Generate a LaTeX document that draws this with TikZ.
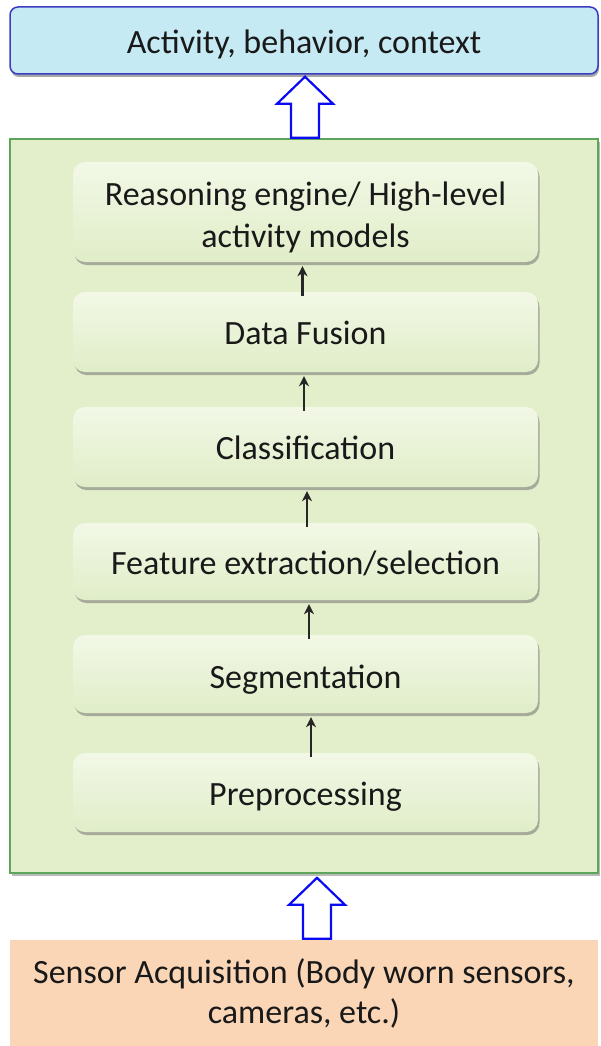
\documentclass[tikz,border=0pt]{standalone}
\usepackage{fontspec}
\setmainfont{Carlito}
\usetikzlibrary{shadows,calc,arrows.meta}
\definecolor{topfill}{HTML}{C6EAF4}
\definecolor{topdraw}{HTML}{3C3CC0}
\definecolor{outfill}{HTML}{E3EFCB}
\definecolor{outdraw}{HTML}{5CA55A}
\definecolor{inhi}{HTML}{F2F8E6}
\definecolor{inlo}{HTML}{E0EDC8}
\definecolor{sensfill}{HTML}{FAD6B7}
\definecolor{bigblue}{HTML}{0A0AF5}
\newcommand\lowr[2][4pt]{\raisebox{-#1}[\height][\depth]{\begin{tabular}{@{}c@{}}#2\end{tabular}}}
\tikzset{
  x=1pt, y=-1pt,
  txt/.style={font=\fontsize{34}{42}\selectfont, text=black!90, align=center, inner sep=0pt},
  topbox/.style={txt, draw=topdraw, line width=1.5pt, fill=topfill, rounded corners=8pt,
    minimum width=588pt, minimum height=67pt,
    drop shadow={shadow xshift=1pt, shadow yshift=-3pt, fill=black!50, opacity=0.7}},
  outerbox/.style={draw=outdraw, line width=1.6pt, fill=outfill, inner sep=0pt,
    minimum width=588pt, minimum height=734pt,
    drop shadow={shadow xshift=2pt, shadow yshift=-3pt, fill=black!45, opacity=0.6}},
  stagebox/.style={txt, rounded corners=12pt, top color=inhi, bottom color=inlo,
    minimum width=465pt,
    drop shadow={shadow xshift=1.5pt, shadow yshift=-3pt, fill=black!55, opacity=0.55}},
  sensbox/.style={txt, fill=sensfill, minimum width=588pt, minimum height=106pt},
  smallarrow/.style={-{Stealth[length=10pt,width=10pt,inset=3pt]}, line width=2.4pt, black!85, shorten >=4pt, shorten <=-4pt},
  bigarrow/.style={draw=bigblue, line width=2.2pt, fill=white, line join=miter},
  blockarrow/.pic={\draw[bigarrow] (0,0) -- (28,27) -- (14,27) -- (14,61) -- (-14,61) -- (-14,27) -- (-28,27) -- cycle;}
}
\begin{document}
\begin{tikzpicture}
\useasboundingbox (0,0) rectangle (600,1046);
\node[sensbox] (sens) at (304,993) {Sensor Acquisition (Body worn sensors,\\[-2pt]cameras, etc.)};
\node[outerbox] (outer) at (304,506) {};
\node[topbox] (top) at (304,40.5) {\lowr[5pt]{Activity, behavior, context}};
\node[stagebox, minimum height=100pt] (reason) at (305.5,212) {\lowr[6pt]{Reasoning engine/ High-level\\activity models}};
\node[stagebox, minimum height=80pt] (fusion) at (305.5,332) {\lowr[4pt]{Data Fusion}};
\node[stagebox, minimum height=80pt] (classif) at (305.5,447) {\lowr[4pt]{Classification}};
\node[stagebox, minimum height=77pt] (feature) at (305.5,561.5) {\lowr[5pt]{Feature extraction/selection}};
\node[stagebox, minimum height=78pt] (segment) at (305.5,674) {\lowr[6pt]{Segmentation}};
\node[stagebox, minimum height=79pt] (prep) at (305.5,792.5) {\lowr[5pt]{Preprocessing}};
\draw[smallarrow] ([xshift=-3pt]fusion.north) -- ([xshift=-3pt]reason.south);
\draw[smallarrow] ([xshift=-1.5pt]classif.north) -- ([xshift=-1.5pt]fusion.south);
\draw[smallarrow] ([xshift=1.5pt]feature.north) -- ([xshift=1.5pt]classif.south);
\draw[smallarrow] ([xshift=3.5pt]segment.north) -- ([xshift=3.5pt]feature.south);
\draw[smallarrow] ([xshift=5.5pt]prep.north) -- ([xshift=5.5pt]segment.south);
\coordinate (tip1) at ([xshift=1pt,yshift=-2pt]top.south);
\coordinate (tip2) at ([xshift=13pt,yshift=-4pt]outer.south);
\pic at (tip1) {blockarrow};
\pic at (tip2) {blockarrow};
\end{tikzpicture}
\end{document}
